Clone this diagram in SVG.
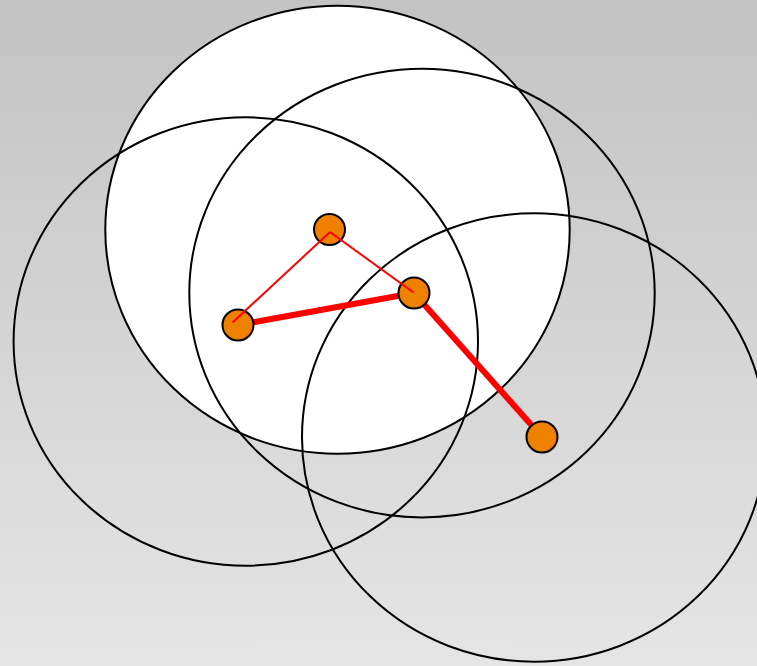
<svg xmlns="http://www.w3.org/2000/svg" width="757" height="666" viewBox="0 0 757 666">
<defs>
<linearGradient id="bg" x1="0" y1="0" x2="0" y2="1">
<stop offset="0" stop-color="#c3c3c3"/>
<stop offset="1" stop-color="#e5e5e5"/>
</linearGradient>
<style>
.ring{fill:none;stroke:#000;stroke-width:2}
.node{fill:#f08000;stroke:#000;stroke-width:2}
.thin{stroke:#ff0000;stroke-width:2;fill:none}
.thick{stroke:#ff0000;stroke-width:6;fill:none}
</style>
</defs>
<rect x="0" y="0" width="757" height="666" fill="url(#bg)"/>
<g id="ranges">
<ellipse cx="337.5" cy="229.7" rx="232.2" ry="224" fill="#fff" stroke="none"/>
<ellipse class="ring" cx="337.5" cy="229.7" rx="232.2" ry="224"/>
<ellipse class="ring" cx="422" cy="293.1" rx="232.7" ry="224.3"/>
<ellipse class="ring" cx="245.8" cy="341.5" rx="232.2" ry="224.2"/>
<ellipse class="ring" cx="534" cy="437.5" rx="232" ry="224.2"/>
</g>
<g id="connectors">
<line class="thick" x1="238" y1="325" x2="414" y2="293"/>
<line class="thick" x1="414" y1="293" x2="542" y2="437"/>
</g>
<g id="n1"><circle class="node" cx="329.5" cy="229.5" r="15.5"/></g>
<g id="n2"><circle class="node" cx="238" cy="325" r="15.5"/></g>
<g id="n3"><circle class="node" cx="414" cy="293" r="15.5"/></g>
<g id="n4"><circle class="node" cx="542" cy="437" r="15.5"/></g>
<g id="connectors-thin">
<line class="thin" x1="330" y1="232" x2="232.5" y2="322.5"/>
<line class="thin" x1="330" y1="232" x2="413.5" y2="292.5"/>
</g>
</svg>
